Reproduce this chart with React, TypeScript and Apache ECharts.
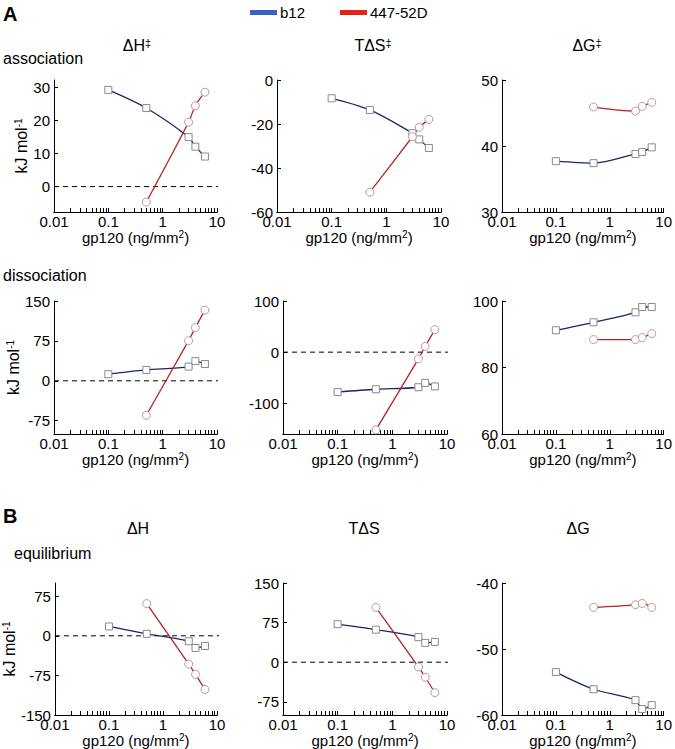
import React, { useEffect, useRef } from "react";
import * as echarts from "echarts";

// ---------- data ----------
const seriesNames = ["b12", "447-52D"];
const xB12 = [0.1, 0.5, 3, 4, 6];
const x447 = [0.5, 3, 4, 6];
const xTickLabels = [0.01, 0.1, 1, 10];

const assocH_b12 = [29.3, 23.8, 15.0, 12.1, 9.1];
const assocH_447 = [-4.7, 19.5, 24.5, 28.6];
const assocTS_b12 = [-8.3, -13.6, -24.2, -27.0, -30.9];
const assocTS_447 = [-51, -25.8, -21.5, -17.9];
const assocG_b12 = [37.7, 37.4, 38.8, 39.1, 39.8];
const assocG_447 = [45.9, 45.3, 46.0, 46.6];

const dissH_b12 = [12.4, 20.4, 26.7, 37, 31.5];
const dissH_447 = [-64.8, 75.4, 100, 132.8];
const dissTS_b12 = [-78, -72.5, -68.6, -60, -67];
const dissTS_447 = [-152, -13, 11.2, 44];
const dissG_b12 = [91.2, 93.6, 96.6, 98.2, 98.2];
const dissG_447 = [88.4, 88.4, 89, 90.2];

const eqH_b12 = [17.7, 3.7, -10.3, -23, -19.4];
const eqH_447 = [61, -53.6, -73, -101.7];
const eqTS_b12 = [72, 61.6, 47.5, 36.6, 38.4];
const eqTS_447 = [103.7, -9, -28.5, -57.8];
const eqG_b12 = [-53.5, -56.1, -57.75, -59.1, -58.5];
const eqG_447 = [-43.7, -43.3, -43.1, -43.7];

const yTicks_assocH = [0, 10, 20, 30];
const yTicks_assocTS = [-60, -40, -20, 0];
const yTicks_assocG = [30, 40, 50];
const yTicks_dissH = [-75, 0, 75, 150];
const yTicks_dissTS = [-100, 0, 100];
const yTicks_dissG = [60, 80, 100];
const yTicks_eqH = [-150, -75, 0, 75];
const yTicks_eqTS = [-75, 0, 75, 150];
const yTicks_eqG = [-60, -50, -40];

const panelTitles = ["ΔH{s|‡}", "TΔS{s|‡}", "ΔG{s|‡}", "", "", "", "ΔH", "TΔS", "ΔG"];
const rowLabels = ["association", "dissociation", "equilibrium"];
const sectionLabels = ["A", "B"];
const yName = "kJ mol{s|-1}";
const xName = "gp120 (ng/mm{s|2})";

// ---------- layout ----------
const FONT = "'Liberation Sans', Arial, sans-serif";
const panels = [
  { b: assocH_b12, r: assocH_447, min: -7.7, max: 32.3, ticks: yTicks_assocH, zero: true },
  { b: assocTS_b12, r: assocTS_447, min: -60, max: 0, ticks: yTicks_assocTS, zero: false },
  { b: assocG_b12, r: assocG_447, min: 30, max: 50, ticks: yTicks_assocG, zero: false },
  { b: dissH_b12, r: dissH_447, min: -100, max: 150, ticks: yTicks_dissH, zero: true },
  { b: dissTS_b12, r: dissTS_447, min: -160, max: 100, ticks: yTicks_dissTS, zero: true },
  { b: dissG_b12, r: dissG_447, min: 60, max: 100, ticks: yTicks_dissG, zero: false },
  { b: eqH_b12, r: eqH_447, min: -150, max: 100, ticks: yTicks_eqH, zero: true },
  { b: eqTS_b12, r: eqTS_447, min: -100, max: 150, ticks: yTicks_eqTS, zero: true },
  { b: eqG_b12, r: eqG_447, min: -60, max: -40, ticks: yTicks_eqG, zero: false },
];
const gridLeft = [
  [54, 277, 502],
  [54, 283, 502],
  [54, 283, 502],
];
const gridWidth = [
  [163, 164, 162],
  [163, 164, 162],
  [163, 164, 162],
];
const gridTop = [80, 301, 583];
const gridHeight = [132, 133, 132];
const titlePos = [
  [137, 45], [373, 45], [587, 45],
  [0, 0], [0, 0], [0, 0],
  [138, 528], [364, 528], [578, 528],
];
const rowLabelPos = [[3, 58.5], [3, 275], [14, 553]];
const sectionPos = [[3, 14], [3, 516]];

const minorLog: number[] = [];
for (let d = -2; d < 1; d++) {
  for (let k = 1; k <= 9; k++) minorLog.push(d + Math.log10(k));
}
minorLog.push(1);

const richSup = {
  s: { fontSize: 10, verticalAlign: "top", fontFamily: FONT, color: "#000", lineHeight: 10 },
};

export default function App() {
  const ref = useRef<HTMLDivElement>(null);
  useEffect(() => {
    if (!ref.current) return;
    const chart = echarts.init(ref.current, undefined, { renderer: "svg" });
    const grid: any[] = [];
    const xAxis: any[] = [];
    const yAxis: any[] = [];
    const series: any[] = [];
    const graphic: any[] = [];

    panels.forEach((p, i) => {
      const r = Math.floor(i / 3);
      const c = i % 3;
      grid.push({ left: gridLeft[r][c], top: gridTop[r], width: gridWidth[r][c], height: gridHeight[r] });
      xAxis.push({
        gridIndex: i,
        type: "log",
        logBase: 10,
        min: xTickLabels[0],
        max: xTickLabels[xTickLabels.length - 1],
        position: "bottom",
        axisLine: { onZero: false, lineStyle: { color: "#000", width: 1 } },
        axisTick: { show: false },
        splitLine: { show: false },
        axisLabel: {
          color: "#000",
          fontSize: 15,
          fontFamily: FONT,
          margin: 2,
          showMinLabel: true,
          showMaxLabel: true,
          formatter: (v: number) => String(+Number(v).toPrecision(3)),
        },
        name: xName,
        nameLocation: "middle",
        nameGap: 11,
        nameTextStyle: { color: "#000", fontSize: 15, fontFamily: FONT, rich: richSup },
      });
      xAxis.push({
        gridIndex: i,
        type: "value",
        min: -2,
        max: 1,
        position: "bottom",
        axisLine: { show: true, onZero: false, lineStyle: { color: "#000", width: 1 } },
        axisLabel: { show: false },
        splitLine: { show: false },
        axisTick: { show: true, inside: true, length: 4, customValues: minorLog, lineStyle: { color: "#000", width: 1 } },
      });
      const yA: any = {
        gridIndex: i,
        type: "value",
        min: p.min,
        max: p.max,
        position: "left",
        splitLine: { show: false },
        axisLine: { show: true, onZero: false, lineStyle: { color: "#000", width: 1 } },
        axisTick: { show: true, inside: true, length: 4, customValues: p.ticks, lineStyle: { color: "#000" } },
        axisLabel: { customValues: p.ticks, color: "#000", fontSize: 15, fontFamily: FONT, margin: 4 },
      };
      if (c === 0) {
        yA.name = yName;
        yA.nameLocation = "middle";
        yA.nameRotate = 90;
        yA.nameGap = 23;
        yA.nameTextStyle = { color: "#000", fontSize: 16, fontFamily: FONT, rich: richSup };
      }
      yAxis.push(yA);

      if (p.zero) {
        series.push({
          type: "line",
          xAxisIndex: 2 * i,
          yAxisIndex: i,
          data: [[0.01, 0], [14, 0]],
          symbol: "none",
          clip: false,
          silent: true,
          lineStyle: { color: "#000", width: 1, type: [5, 4] },
          z: 1,
        });
      }
      series.push({
        name: seriesNames[0],
        type: "line",
        xAxisIndex: 2 * i,
        yAxisIndex: i,
        data: xB12.map((x, k) => [x, p.b[k]]),
        smooth: 0.3,
        symbol: "rect",
        symbolSize: 7,
        lineStyle: { color: "#1b2468", width: 1.3 },
        itemStyle: { color: "#fff", borderColor: "#8a8a8a", borderWidth: 1 },
        z: 3,
      });
      series.push({
        name: seriesNames[1],
        type: "line",
        xAxisIndex: 2 * i,
        yAxisIndex: i,
        data: x447.map((x, k) => [x, p.r[k]]),
        smooth: 0.3,
        symbol: "circle",
        symbolSize: 8,
        lineStyle: { color: "#b3231f", width: 1.3 },
        itemStyle: { color: "#fff", borderColor: "#b89a9a", borderWidth: 1 },
        z: 3,
      });

      if (panelTitles[i]) {
        graphic.push({
          type: "text",
          x: titlePos[i][0],
          y: titlePos[i][1],
          style: {
            text: panelTitles[i],
            fontSize: 16,
            fontFamily: FONT,
            fill: "#000",
            align: "center",
            verticalAlign: "middle",
            textAlign: "center",
            textVerticalAlign: "middle",
            rich: { s: { fontSize: 11, verticalAlign: "top", fontFamily: FONT, lineHeight: 10 } },
          },
        });
      }
    });

    rowLabels.forEach((t, k) => {
      graphic.push({
        type: "text",
        x: rowLabelPos[k][0],
        y: rowLabelPos[k][1],
        style: {
          text: t, fontSize: 16, fontFamily: FONT, fill: "#000",
          align: "left", verticalAlign: "middle", textAlign: "left", textVerticalAlign: "middle",
        },
      });
    });
    sectionLabels.forEach((t, k) => {
      graphic.push({
        type: "text",
        x: sectionPos[k][0],
        y: sectionPos[k][1],
        style: {
          text: t, fontSize: 20, fontWeight: "bold", fontFamily: FONT, fill: "#000",
          align: "left", verticalAlign: "middle", textAlign: "left", textVerticalAlign: "middle",
        },
      });
    });
    // legend
    const legendColors = ["#3565c0", "#e8201a"];
    const legendX = [250, 340];
    seriesNames.forEach((n, k) => {
      graphic.push({ type: "rect", shape: { x: legendX[k], y: 10, width: 27, height: 5 }, style: { fill: legendColors[k] } });
      graphic.push({
        type: "text",
        x: legendX[k] + 30,
        y: 12.5,
        style: {
          text: n, fontSize: 15, fontFamily: FONT, fill: "#000",
          align: "left", verticalAlign: "middle", textAlign: "left", textVerticalAlign: "middle",
        },
      });
    });

    chart.setOption({
      animation: false,
      backgroundColor: "#fff",
      grid,
      xAxis,
      yAxis,
      series,
      graphic,
    });
    return () => chart.dispose();
  }, []);
  return (
    <div
      ref={ref}
      style={{ position: "fixed", left: 0, top: 0, width: 675, height: 749, background: "#fff" }}
    />
  );
}
